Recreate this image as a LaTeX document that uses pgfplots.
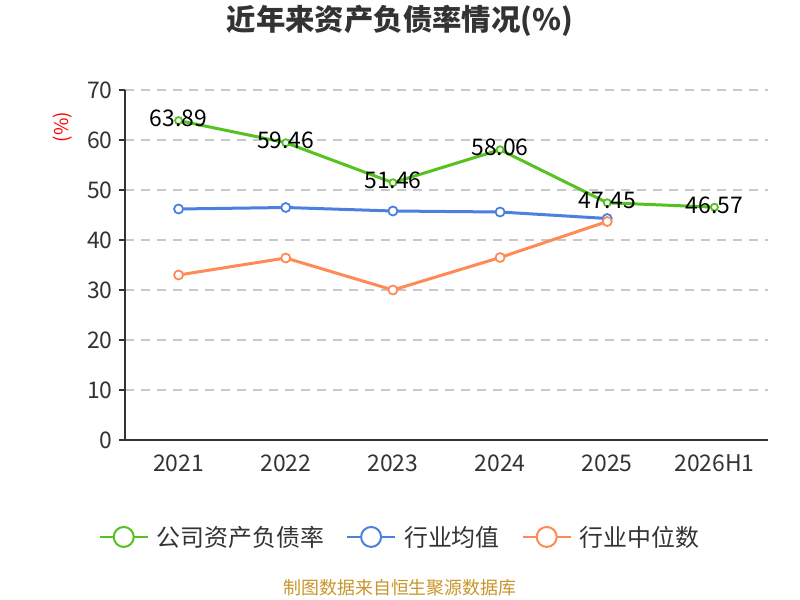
\documentclass[border=0pt]{standalone}
\usepackage{fontspec}
\setmainfont{Noto Sans CJK SC}
\usepackage{pgfplots}
\pgfplotsset{compat=1.18}
\definecolor{cgreen}{HTML}{56C21F}
\definecolor{cblue}{HTML}{4B7FE0}
\definecolor{corange}{HTML}{FF8A56}
\definecolor{axisgray}{HTML}{333333}
\definecolor{gridgray}{HTML}{C8C8C8}
\definecolor{footgold}{HTML}{C8962A}
\begin{document}
\begin{tikzpicture}
\path[use as bounding box] (0,0) rectangle (800bp,600bp);
\begin{axis}[
  at={(125bp,160bp)}, anchor=south west,
  scale only axis, width=643bp, height=350bp,
  xmin=-0.5, xmax=5.5, ymin=0, ymax=70,
  axis x line*=bottom, axis y line*=left,
  axis line style={draw=axisgray, line width=1.3bp},
  xtick={0,1,2,3,4,5},
  xticklabels={2021,2022,2023,2024,2025,2026H1},
  x tick style={draw=none},
  extra x ticks={-0.5,0.5,1.5,2.5,3.5,4.5,5.5},
  extra x tick labels={},
  extra x tick style={tick style={draw=axisgray, line width=1.3bp}},
  ytick={0,10,...,70},
  y tick style={draw=axisgray, line width=1.3bp},
  tick align=outside, major tick length=6bp,
  ymajorgrids, grid style={gridgray, dash pattern=on 9bp off 7bp, line width=1.8bp},
  /pgf/number format/assume math mode=true,
  tick label style={font=\fontsize{23}{26}\selectfont, text=axisgray},
  xticklabel style={yshift=-5bp},
  yticklabel style={xshift=-3bp},
  ylabel={(\%)},
  ylabel style={at={(axis description cs:-0.0964,0.894)}, anchor=center, font=\fontsize{19}{22}\selectfont, text=red},
  title={近年来资产负债率情况(\%)},
  title style={at={(axis description cs:0.4277,1.18)}, anchor=center, font=\fontsize{29.5}{34}\selectfont\bfseries, text=axisgray},
  legend style={at={(axis description cs:0.4277,-0.277)}, anchor=center, draw=none, fill=none,
    legend columns=-1, font=\fontsize{24}{28}\selectfont, text=axisgray,
    /tikz/every odd column/.append style={column sep=6bp},
    /tikz/every even column/.append style={column sep=20bp}},
  legend cell align=left,
  clip=false,
]
\addplot[cgreen, line width=3bp, mark=*, mark size=3.5bp, mark options={fill=white, line width=1.8bp},
  nodes near coords, point meta=explicit symbolic,
  every node near coord/.append style={anchor=center, yshift=2bp, text=black, font=\fontsize{23}{26}\selectfont},
  legend image code/.code={\draw[cgreen, line width=2bp] (0bp,0bp) -- (48bp,0bp); \draw[cgreen, line width=2bp, fill=white] (24bp,0bp) circle (10bp);}]
  coordinates {(0,63.89)[63.89] (1,59.46)[59.46] (2,51.46)[51.46] (3,58.06)[58.06] (4,47.45)[47.45] (5,46.57)[46.57]};
\addlegendentry{公司资产负债率}
\addplot[cblue, line width=3bp, mark=*, mark size=4.5bp, mark options={fill=white, line width=1.8bp},
  legend image code/.code={\draw[cblue, line width=2bp] (0bp,0bp) -- (48bp,0bp); \draw[cblue, line width=2bp, fill=white] (24bp,0bp) circle (10bp);}]
  coordinates {(0,46.2) (1,46.5) (2,45.8) (3,45.6) (4,44.3)};
\addlegendentry{行业均值}
\addplot[corange, line width=3bp, mark=*, mark size=4.5bp, mark options={fill=white, line width=1.8bp},
  legend image code/.code={\draw[corange, line width=2bp] (0bp,0bp) -- (48bp,0bp); \draw[corange, line width=2bp, fill=white] (24bp,0bp) circle (10bp);}]
  coordinates {(0,33.0) (1,36.4) (2,30.0) (3,36.5) (4,43.7)};
\addlegendentry{行业中位数}
\end{axis}
\node[font=\fontsize{18}{21}\selectfont, text=footgold] at (400bp,12bp) {制图数据来自恒生聚源数据库};
\end{tikzpicture}
\end{document}
